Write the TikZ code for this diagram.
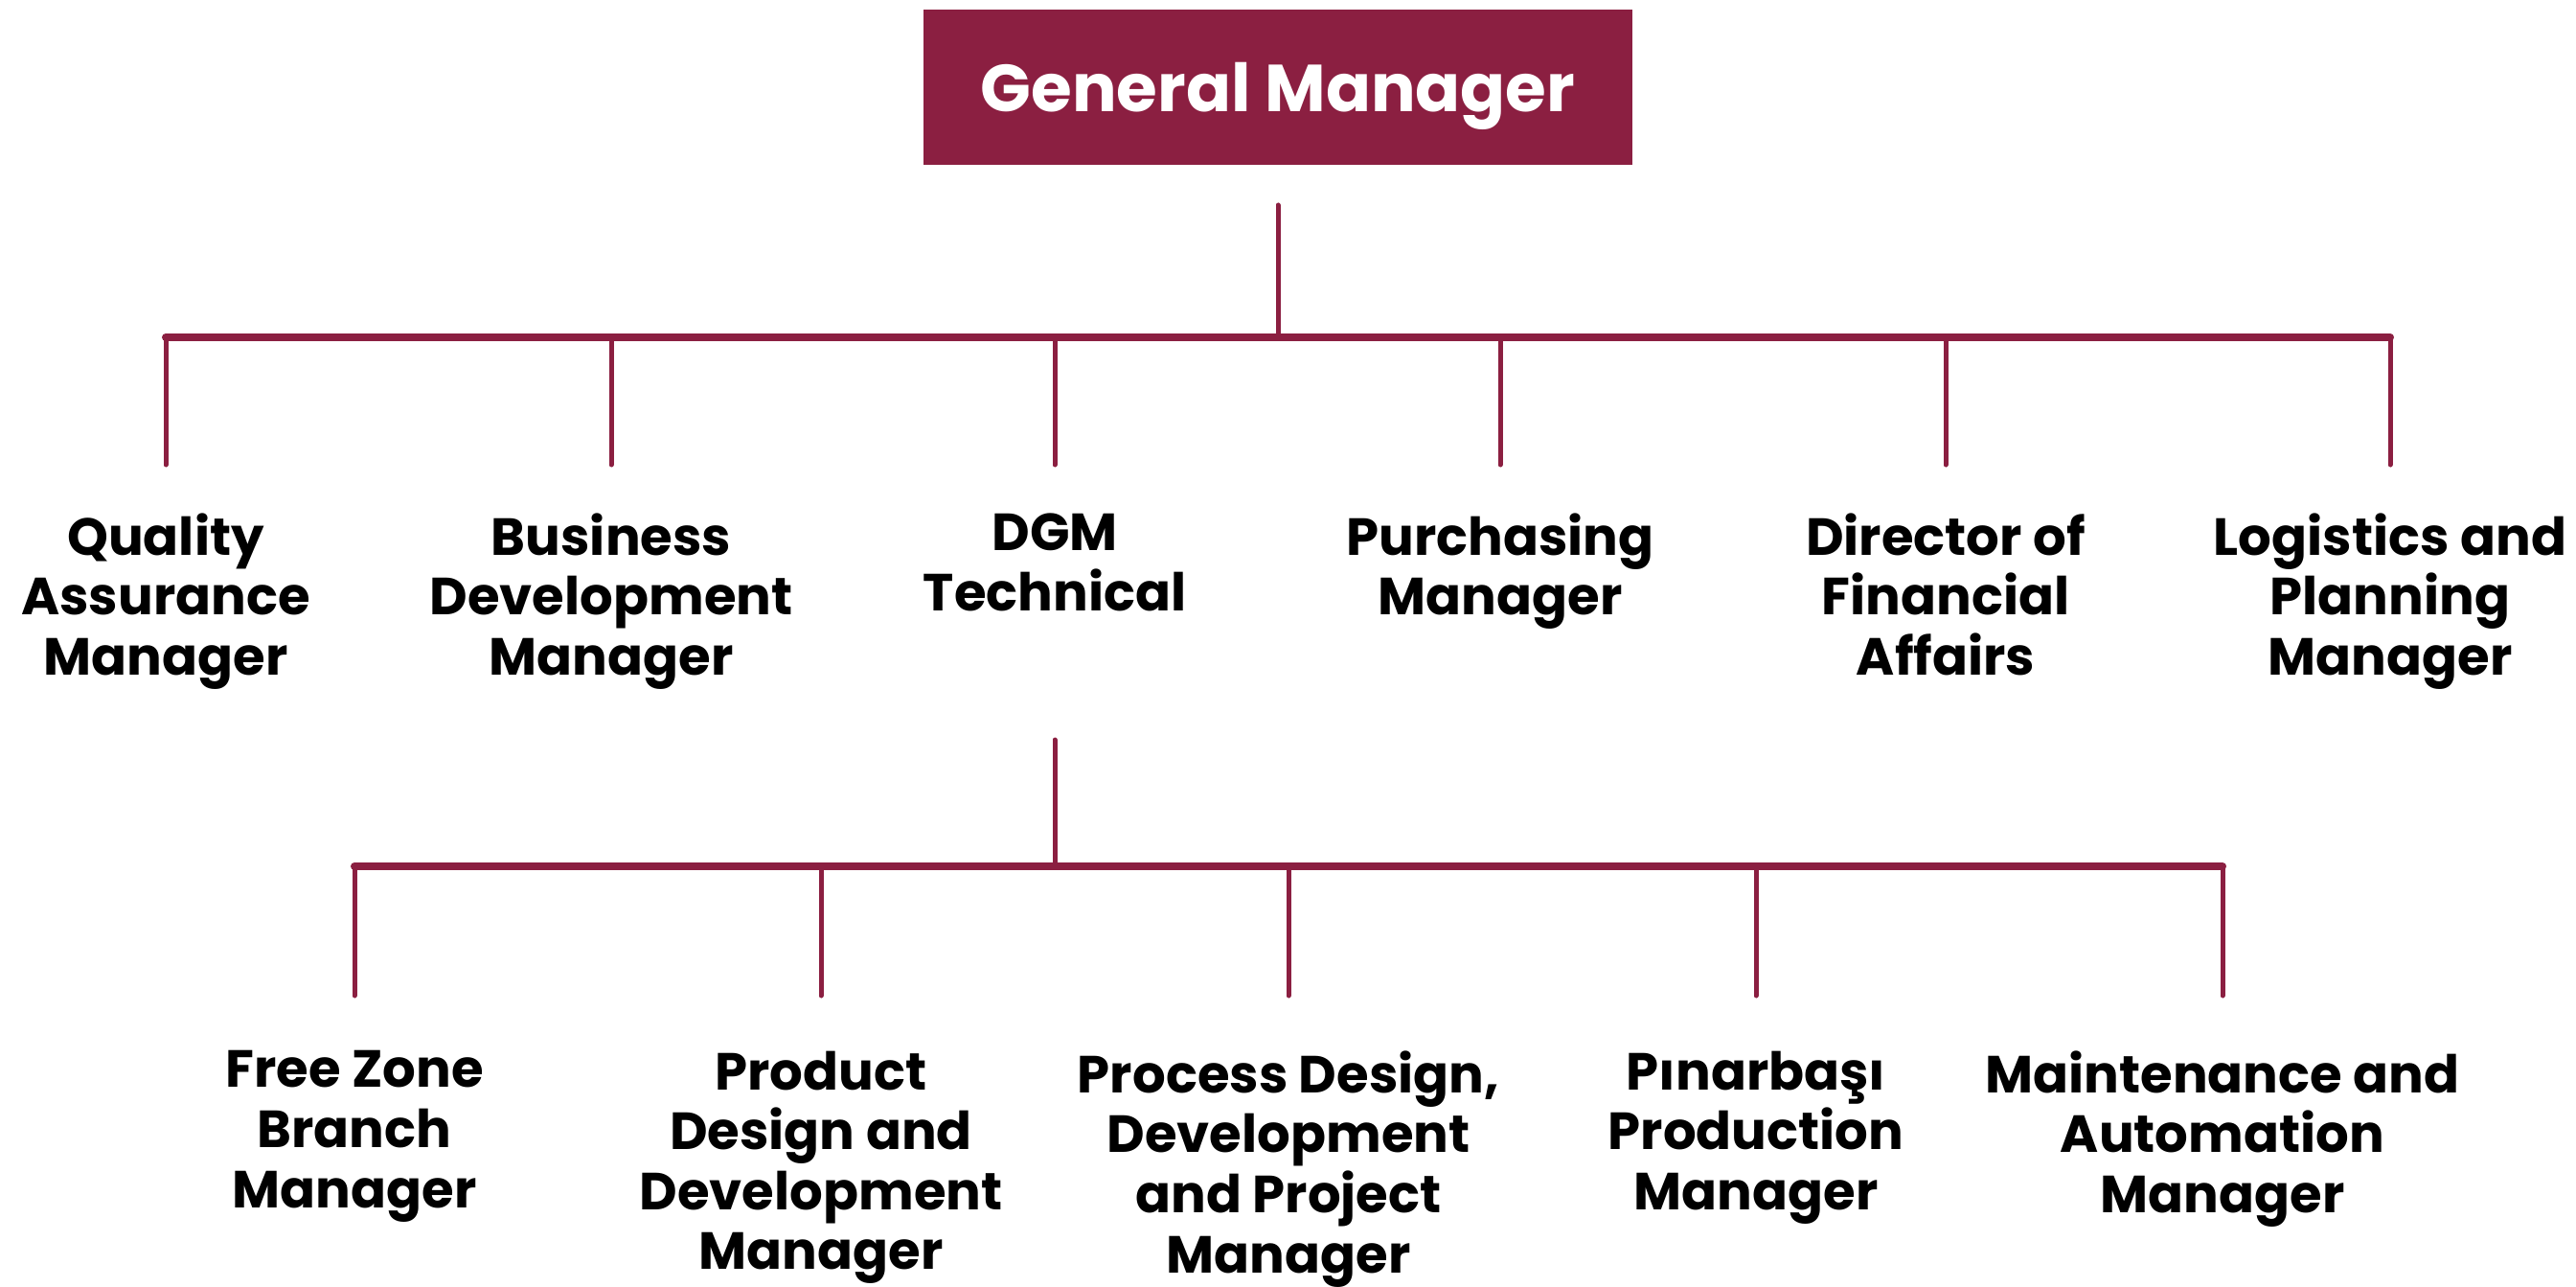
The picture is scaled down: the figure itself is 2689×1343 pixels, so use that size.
\documentclass[tikz,border=0pt]{standalone}
\usepackage{fontspec}
\setmainfont{Poppins}
\definecolor{maroon}{RGB}{139,31,65}
\begin{document}
\begin{tikzpicture}[x=0.01cm,y=-0.01cm,
  gmbox/.style={fill=maroon,text=white,inner sep=0,minimum width=7.39cm,minimum height=1.61cm,
    text depth=0pt,font=\fontsize{19.7}{24}\selectfont\bfseries},
  role/.style={align=center,inner sep=0,anchor=north,text=black,
    font=\fontsize{15.5}{17.8}\selectfont\bfseries},
  bar/.style={draw=maroon,line width=8*0.01cm,line cap=round},
  drop/.style={draw=maroon,line width=5*0.01cm,line cap=round}]
\useasboundingbox (0,0) rectangle (2689,1343);
\fill[white] (0,0) rectangle (2689,1343);
% top
\node[gmbox] (gm) at (1334,91) {General Manager};
% row 1 labels
\node[role] (qa) at (173,535) {Quality\\Assurance\\Manager};
\node[role] (bd) at (638,535) {Business\\Development\\Manager};
\node[role] (dgm) at (1101,535) {DGM\\Technical};
\node[role] (pu) at (1566,535) {Purchasing\\Manager};
\node[role] (fa) at (2031,535) {Director of\\Financial\\Affairs};
\node[role] (lp) at (2495,535) {Logistics and\\Planning\\Manager};
% row 2 labels
\node[role] (fz) at (370,1096) {Free Zone\\Branch\\Manager};
\node[role] (pd) at (857,1096) {Product\\Design and\\Development\\Manager};
\node[role] (pp) at (1345,1096) {Process Design,\\Development\\and Project\\Manager};
\node[role] (pm) at (1833,1096) {Pınarbaşı\\Production\\Manager};
\node[role] (ma) at (2320,1096) {Maintenance and\\Automation\\Manager};
% junctions
\coordinate (j1) at (1334,352);
\coordinate (j1l) at (173,352);
\coordinate (j1r) at (2495,352);
\coordinate (j2) at (1101,904);
\coordinate (j2l) at (370,904);
\coordinate (j2r) at (2320,904);
% connectors level 1
\draw[drop] (gm.south |- 0,214) -- (j1);
\draw[bar] (j1l) -- (j1r);
\foreach \n in {qa,bd,dgm,pu,fa,lp}
  \draw[drop] (\n.north |- j1) -- (\n.north |- 0,485);
% connectors level 2
\draw[drop] (dgm.north |- 0,772) -- (j2);
\draw[bar] (j2l) -- (j2r);
\foreach \n in {fz,pd,pp,pm,ma}
  \draw[drop] (\n.north |- j2) -- (\n.north |- 0,1039);
\end{tikzpicture}
\end{document}
